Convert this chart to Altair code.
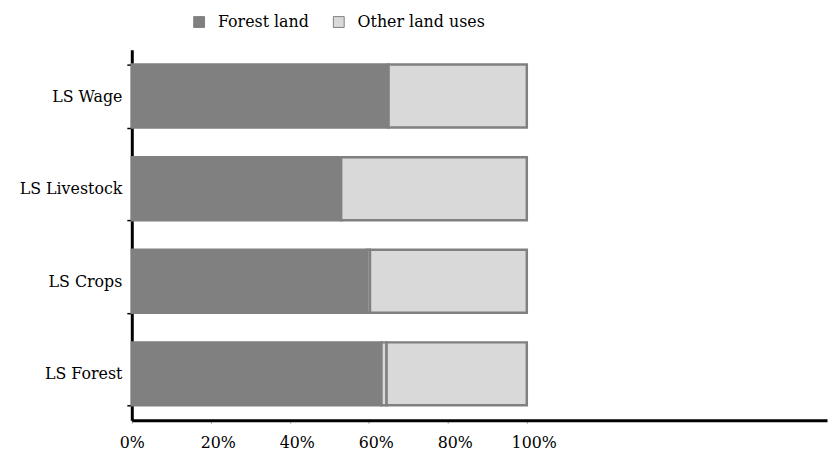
import altair as alt
import pandas as pd

categories = ["LS Wage", "LS Livestock\u00a0", "LS Crops", "LS Forest"]
forest_land = [65.0, 53.0, 59.6, 63.2]
other_small = [0.0, 0.0, 0.7, 1.3]
other_land = [35.0, 47.0, 39.7, 35.5]
series = ["Forest land", "Other land uses"]
x_ticks = [0, 20, 40, 60, 80, 100]

rows = []
for c, f, s, o in zip(categories, forest_land, other_small, other_land):
    rows.append({"cat": c, "series": series[0], "value": f, "seg": 0})
    if s > 0:
        rows.append({"cat": c, "series": series[1], "value": s, "seg": 1})
    rows.append({"cat": c, "series": series[1], "value": o, "seg": 2})
df = pd.DataFrame(rows)

FONT = "DejaVu Serif"

chart = alt.Chart(df).mark_bar(stroke="#808080", strokeWidth=2.5).encode(
    y=alt.Y("cat:N", sort=categories, title=None,
            scale=alt.Scale(paddingInner=0.32, paddingOuter=0.16),
            axis=alt.Axis(domainColor="black", domainWidth=3, tickColor="black",
                          tickWidth=1.5, tickSize=5, tickBand="extent",
                          labelFont=FONT, labelFontSize=16, labelColor="black",
                          labelPadding=5, minExtent=120, maxExtent=120)),
    x=alt.X("value:Q", stack="zero", title=None,
            scale=alt.Scale(domain=[0, 176], nice=False, zero=True),
            axis=alt.Axis(values=x_ticks, labelExpr="datum.value + '%'",
                          domainColor="black", domainWidth=3, tickColor="#999999",
                          tickWidth=1, tickSize=3, grid=False,
                          labelFont=FONT, labelFontSize=16, labelColor="black",
                          labelPadding=12, labelFlush=False,
                          labelOffset={"condition": {"test": "datum.value == 0", "value": 0},
                                       "value": 7})),
    color=alt.Color("series:N",
                    scale=alt.Scale(domain=series, range=["#808080", "#d9d9d9"]),
                    legend=alt.Legend(title=None, orient="none", legendX=60, legendY=-36,
                                      direction="horizontal", symbolType="square",
                                      symbolSize=120, symbolStrokeWidth=1,
                                      labelFont=FONT, labelFontSize=16, labelColor="black",
                                      labelOffset=11, columnPadding=22, padding=0)),
    order=alt.Order("seg:Q"),
).properties(
    width=702, height=374,
    autosize=alt.AutoSizeParams(type="none"),
    padding={"left": 125, "top": 40, "right": 2, "bottom": 31},
).configure_view(stroke=None).configure_axis(grid=False)

chart.save("out.html", embed_options={"renderer": "svg", "actions": False})
